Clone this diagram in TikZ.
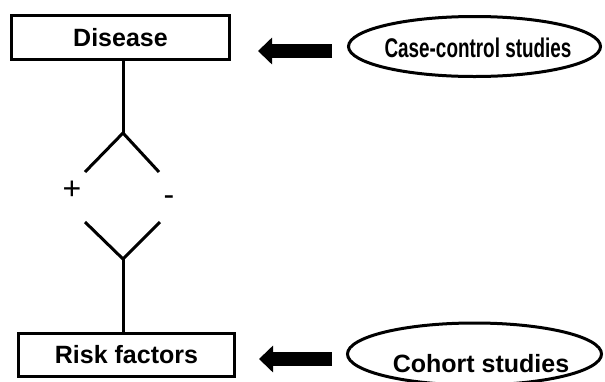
\documentclass[tikz,border=0pt]{standalone}
\usepackage{fontspec}
\setmainfont{Liberation Sans}
\usetikzlibrary{shapes.geometric,arrows.meta}
\tikzset{
  labelbox/.style={draw=black, line width=3pt, rectangle, inner sep=0pt,
    font=\fontsize{25}{30}\selectfont\bfseries},
  studyoval/.style={draw=black, line width=3pt, ellipse, inner sep=0pt},
  studytext/.style={inner sep=0pt, anchor=base, font=\fontsize{25}{30}\selectfont\bfseries},
  signtext/.style={inner sep=0pt, anchor=base, font=\fontsize{32}{36}\selectfont},
  link/.style={line width=3pt, line cap=butt},
  bigarrow/.style={line width=14pt, -{Triangle[length=14pt,width=26pt]}}
}
\begin{document}
\begin{tikzpicture}[x=1pt,y=-1pt]
\useasboundingbox (0,0) rectangle (605,381);
% boxes
\node[labelbox, minimum width=218pt, minimum height=44pt] (disease) at (120.5,37.5) {Disease};
\node[labelbox, minimum width=216pt, minimum height=43pt] (risk) at (126.5,355) {Risk factors};
% ovals
\node[studyoval, minimum width=252pt, minimum height=60pt] (case) at (474.5,46.5) {};
\node[studytext] (casetext) at (478,57) {\scalebox{0.70}[1]{\fontsize{27}{30}\selectfont Case-control studies}};
\node[studyoval, minimum width=254pt, minimum height=62pt] (cohort) at (474.5,354) {};
\node[studytext] (cohorttext) at (481,372) {Cohort studies};
% diamond points
\coordinate (T) at (123,133);
\coordinate (UL) at (85,172);
\coordinate (UR) at (159,172);
\coordinate (LL) at (85,222);
\coordinate (LR) at (160,222);
\coordinate (B) at (123,259);
\draw[link] (T |- disease.south) -- (T);
\draw[link, line join=miter] (UL) -- (T) -- (UR);
\draw[link, line join=miter] (LL) -- (B) -- (LR);
\draw[link] (B) -- (B |- risk.north);
% signs
\node[signtext] (plus) at (72,199) {+};
\node[signtext] (minus) at (169,205) {-};
% arrows
\coordinate (a1s) at (332,51);
\coordinate (a1e) at (258,51);
\coordinate (a2s) at (332,359);
\coordinate (a2e) at (259,359);
\draw[bigarrow] (a1s) -- (a1e);
\draw[bigarrow] (a2s) -- (a2e);
\end{tikzpicture}
\end{document}
